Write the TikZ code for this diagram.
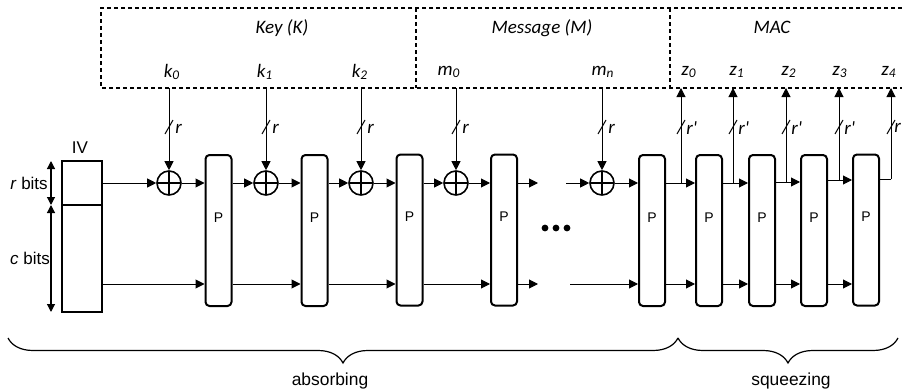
\documentclass[tikz,border=0pt]{standalone}
\usepackage{fontspec}
\setmainfont{Liberation Sans}
\newfontfamily\calfont{Carlito}
\usetikzlibrary{arrows.meta,calc,decorations.pathreplacing}
\begin{document}
\begin{tikzpicture}[x=0.5pt,y=-0.5pt,
  arr/.style={-{Triangle[length=4.5pt,width=4.5pt]}, line width=0.5pt},
  dblarr/.style={{Triangle[length=4pt,width=4pt]}-{Triangle[length=4pt,width=4pt]}, line width=0.6pt},
  conn/.style={line width=0.5pt},
  pbox/.style={draw, line width=1pt, rounded corners=2pt, minimum width=13pt, minimum height=75.5pt, inner sep=0pt},
  ptext/.style={font=\fontsize{7}{8}\selectfont, inner sep=0pt},
  xor/.style={circle, draw, line width=0.8pt, minimum size=12pt, inner sep=0pt,
    path picture={\draw[line width=0.8pt] (path picture bounding box.north) -- (path picture bounding box.south)
      (path picture bounding box.west) -- (path picture bounding box.east);}},
  lab/.style={font=\calfont\itshape\fontsize{9.5}{11}\selectfont, inner sep=0pt},
  rlab/.style={font=\calfont\itshape\fontsize{9.5}{11}\selectfont, inner sep=0pt, anchor=west},
  sidelab/.style={font=\fontsize{8.5}{10}\selectfont, inner sep=0pt},
  phase/.style={font=\fontsize{8.7}{10}\selectfont, inner sep=0pt},
  dashbox/.style={dash pattern=on 2pt off 1.5pt, line width=0.55pt},
  bracestyle/.style={decorate, decoration={brace, mirror, amplitude=12.5pt}, line width=0.6pt},
]
\useasboundingbox (0,0) rectangle (902,391);

% dashed input/output box
\draw[dashbox] (902,8) -- (101,8) -- (101,88) -- (902,88);
\draw[dashbox] (416,8) -- (416,88);
\draw[dashbox] (670,8) -- (670,88);
\node[lab] (keyt) at (282,28) {Key (K)};
\node[lab] (msgt) at (542,28) {Message (M)};
\node[lab] (mact) at (772,27) {MAC};

% input / output labels
\node[lab] (k0) at (172,72) {k\textsubscript{0}};
\node[lab] (k1) at (265,72) {k\textsubscript{1}};
\node[lab] (k2) at (360,72) {k\textsubscript{2}};
\node[lab] (m0) at (449,72) {m\textsubscript{0}};
\node[lab] (mn) at (603,72) {m\textsubscript{n}};
\node[lab] (z0) at (689,72) {z\textsubscript{0}};
\node[lab] (z1) at (737,72) {z\textsubscript{1}};
\node[lab] (z2) at (789,72) {z\textsubscript{2}};
\node[lab] (z3) at (840,72) {z\textsubscript{3}};
\node[lab] (z4) at (889,72) {z\textsubscript{4}};

% IV
\node[draw, line width=0.6pt, minimum width=20pt, minimum height=75.5pt, inner sep=0pt] (IV) at (82,236.5) {};
\coordinate (ivd) at (62,205);
\draw[line width=0.6pt] (ivd) -- (ivd -| IV.east);
\node[font=\fontsize{8.5}{9}\selectfont, inner sep=0pt] (ivlab) at (80,148) {IV};
\coordinate (ra) at (51,161);
\coordinate (rb) at (51,205);
\coordinate (rc) at (51,312);
\draw[dblarr] (ra) -- (rb);
\draw[dblarr] (rb) -- (rc);
\node[sidelab] (rbits) at (29,183) {\textit{r} bits};
\node[sidelab] (cbits) at (30,258) {\textit{c} bits};

% XOR nodes
\node[xor] (X0) at (169,183) {};
\node[xor] (X1) at (266,183) {};
\node[xor] (X2) at (361,183) {};
\node[xor] (X3) at (456,183) {};
\node[xor] (X4) at (602,183) {};

% permutation boxes
\node[pbox] (P1) at (218.5,230.5) {};
\node[pbox] (P2) at (314.5,230.5) {};
\node[pbox] (P3) at (409.5,230) {};
\node[pbox] (P4) at (504,230) {};
\node[pbox] (P5) at (652,230.5) {};
\node[pbox] (P6) at (709,230.5) {};
\node[pbox] (P7) at (762,230.5) {};
\node[pbox] (P8) at (814,230.5) {};
\node[pbox] (P9) at (866,230) {};
\foreach \p in {P1,P2,P3,P4,P5,P6,P7,P8,P9}{
  \node[ptext] at ($(\p.center)+(0,-13)$) {P};
}

% coordinates on the dashed box
\coordinate (kb0) at (169,88);
\coordinate (kb1) at (266,88);
\coordinate (kb2) at (361,88);
\coordinate (mb0) at (456,88);
\coordinate (mbn) at (602,88);
\coordinate (zb0) at (681,88);
\coordinate (zb1) at (733,88);
\coordinate (zb2) at (786,88);
\coordinate (zb3) at (839,88);
\coordinate (zb4) at (891,88);

% inputs into XORs
\foreach \a/\b in {kb0/X0,kb1/X1,kb2/X2,mb0/X3,mbn/X4}{
  \draw[arr] (\a) -- (\b);
}
% slash marks (absorbing)
\foreach \xx in {169,266,361,456,602}{
  \draw[conn] (\xx-4,134) -- (\xx+4,120);
  \node[rlab] at (\xx+6,129) {r};
}
% slash marks (squeezing)
\foreach \xx in {681,733,786,839}{
  \draw[conn] (\xx-4,134) -- (\xx+4,120);
  \node[rlab] at (\xx+5,128) {r'};
}
\draw[conn] (887,134) -- (895,120);
\node[rlab] at (894,128) {r};

% rate row (absorbing)
\coordinate (ivt) at (IV.east |- X0);
\draw[arr] (ivt) -- (X0);
\draw[arr] (X0) -- (X0 -| P1.west);
\draw[arr] (X1 -| P1.east) -- (X1);
\draw[arr] (X1) -- (X1 -| P2.west);
\draw[arr] (X2 -| P2.east) -- (X2);
\draw[arr] (X2) -- (X2 -| P3.west);
\draw[arr] (X3 -| P3.east) -- (X3);
\draw[arr] (X3) -- (X3 -| P4.west);
\coordinate (e1) at (538,183);
\draw[arr] (e1 -| P4.east) -- (e1);
\coordinate (s1) at (566,183);
\draw[arr] (s1) -- (X4);
\draw[arr] (X4) -- (X4 -| P5.west);

% capacity row
\coordinate (b0) at (102,284);
\draw[arr] (b0) -- (b0 -| P1.west);
\draw[arr] (b0 -| P1.east) -- (b0 -| P2.west);
\draw[arr] (b0 -| P2.east) -- (b0 -| P3.west);
\draw[arr] (b0 -| P3.east) -- (b0 -| P4.west);
\coordinate (e2) at (538,284);
\draw[arr] (e2 -| P4.east) -- (e2);
\coordinate (s2) at (570,284);
\draw[arr] (s2) -- (s2 -| P5.west);
\draw[arr] (b0 -| P5.east) -- (b0 -| P6.west);
\draw[arr] (b0 -| P6.east) -- (b0 -| P7.west);
\draw[arr] (b0 -| P7.east) -- (b0 -| P8.west);
\draw[arr] (b0 -| P8.east) -- (b0 -| P9.west);

% ellipsis
\fill (545,228) circle (1.7pt);
\fill (556,228) circle (1.7pt);
\fill (567,228) circle (1.7pt);

% rate row (squeezing) with outputs
\coordinate (t5) at (681,183);
\coordinate (t6) at (733,183);
\coordinate (t7) at (786,182);
\coordinate (t8) at (839,180);
\coordinate (t9) at (891,179);
\draw[arr] (t5 -| P5.east) -- (t5 -| P6.west);
\draw[arr] (t6 -| P6.east) -- (t6 -| P7.west);
\draw[arr] (t7 -| P7.east) -- (t7 -| P8.west);
\draw[arr] (t8 -| P8.east) -- (t8 -| P9.west);
\draw[conn] (t9 -| P9.east) -- (t9);
\draw[arr] (t5) -- (zb0);
\draw[arr] (t6) -- (zb1);
\draw[arr] (t7) -- (zb2);
\draw[arr] (t8) -- (zb3);
\draw[arr] (t9) -- (zb4);

% phase braces
\coordinate (ba) at (8,338);
\coordinate (bm) at (678,338);
\coordinate (bz) at (898,338);
\draw[bracestyle] (ba) -- (bm);
\draw[bracestyle] (bm) -- (bz);
\node[phase] (abs) at (330,381) {absorbing};
\node[phase] (sq) at (791,381) {squeezing};
\end{tikzpicture}
\end{document}
